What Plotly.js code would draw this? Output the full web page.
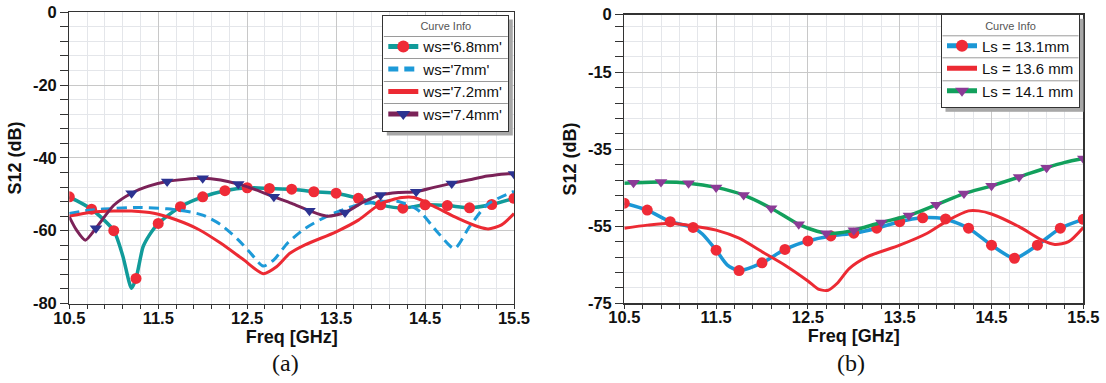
<!DOCTYPE html>
<html><head><meta charset="utf-8">
<script src="https://cdn.plot.ly/plotly-3.0.1.min.js"></script>
<style>html,body{margin:0;padding:0;background:#fff}#chart{width:1106px;height:383px}</style>
</head><body><div id="chart"></div>
<script>
// ---------- (a) ws sweep ----------
const seriesNamesA = ["ws='6.8mm'", "ws='7mm'", "ws='7.2mm'", "ws='7.4mm'"];
const freqA_ws68 = [10.5,10.75,11.0,11.1,11.2,11.25,11.33,11.4,11.5,11.75,12.0,12.25,12.5,12.75,13.0,13.25,13.5,13.75,14.0,14.25,14.5,14.75,15.0,15.25,15.5];
const s12A_ws68  = [-50.7,-54.1,-60.0,-66.8,-75.8,-73.1,-64.4,-61.2,-58.0,-53.4,-50.7,-49.0,-48.2,-48.4,-48.6,-49.3,-49.7,-51.1,-52.9,-53.8,-52.9,-53.1,-53.7,-52.8,-51.1];
const markA_ws68 = [10.5,10.75,11.0,11.25,11.5,11.75,12.0,12.25,12.5,12.75,13.0,13.25,13.5,13.75,14.0,14.25,14.5,14.75,15.0,15.25,15.5];

const freqA_ws70 = [10.5,10.75,11.0,11.3,11.6,11.8,12.0,12.2,12.4,12.55,12.68,12.8,12.95,13.15,13.4,13.7,14.0,14.2,14.42,14.65,14.83,15.0,15.2,15.5];
const s12A_ws70  = [-55.3,-54.3,-53.9,-53.6,-54.0,-54.6,-55.7,-58.3,-62.5,-66.5,-69.7,-68.0,-63.5,-59.4,-56.0,-53.2,-52.0,-52.0,-54.3,-60.7,-64.9,-58.9,-52.8,-49.2];

const freqA_ws72 = [10.5,10.75,11.0,11.2,11.45,11.7,11.95,12.2,12.45,12.68,12.83,12.98,13.15,13.5,13.75,14.0,14.24,14.38,14.6,14.87,15.1,15.21,15.36,15.5];
const s12A_ws72  = [-56.0,-54.9,-54.6,-54.6,-55.2,-57.0,-59.6,-63.4,-67.8,-71.8,-69.9,-66.2,-63.9,-60.3,-57.1,-52.6,-50.9,-50.9,-53.3,-56.6,-58.9,-59.5,-58.4,-55.3];

const freqA_ws74 = [10.5,10.58,10.68,10.8,11.0,11.2,11.4,11.6,11.8,12.0,12.2,12.4,12.6,12.8,13.0,13.2,13.4,13.6,13.8,14.0,14.2,14.4,14.6,14.8,15.0,15.2,15.4,15.5];
const s12A_ws74  = [-56.2,-59.8,-62.6,-59.3,-53.0,-49.7,-47.7,-46.5,-45.9,-45.6,-46.1,-47.2,-48.8,-50.7,-52.5,-54.5,-56.0,-55.0,-52.2,-50.2,-49.5,-49.3,-48.1,-47.0,-46.0,-45.0,-44.4,-44.4];
const markA_ws74 = [10.8,11.2,11.6,12.0,12.4,12.8,13.2,13.6,14.0,14.4,14.8,15.5];

// ---------- (b) Ls sweep ----------
const seriesNamesB = ["Ls = 13.1mm", "Ls = 13.6 mm", "Ls = 14.1 mm"];
const freqB_ls131 = [10.5,10.75,11.0,11.25,11.35,11.5,11.62,11.75,12.0,12.25,12.5,12.75,13.0,13.25,13.5,13.75,13.9,14.0,14.25,14.5,14.75,15.0,15.25,15.5];
const s12B_ls131  = [-49.0,-50.8,-53.8,-55.3,-57.0,-61.2,-65.0,-66.5,-64.5,-61.0,-58.8,-57.5,-56.8,-55.5,-53.8,-52.8,-52.8,-53.1,-55.5,-59.9,-63.3,-59.9,-55.5,-53.2];
const markB_ls131 = [10.5,10.75,11.0,11.25,11.5,11.75,12.0,12.25,12.5,12.75,13.0,13.25,13.5,13.75,14.0,14.25,14.5,14.75,15.0,15.25,15.5];

const freqB_ls136 = [10.5,10.75,11.0,11.25,11.5,11.75,12.0,12.25,12.5,12.62,12.72,12.82,12.95,13.15,13.5,13.8,14.03,14.25,14.36,14.5,14.8,15.05,15.19,15.34,15.5];
const s12B_ls136  = [-55.5,-54.7,-54.2,-54.9,-56.0,-58.1,-61.6,-65.1,-69.2,-71.4,-71.6,-69.8,-66.0,-62.9,-59.9,-56.8,-53.4,-51.0,-51.0,-51.8,-55.1,-58.6,-59.7,-59.0,-55.3];

const freqB_ls141 = [10.5,10.6,10.9,11.2,11.5,11.8,12.1,12.4,12.6,12.7,12.85,13.0,13.3,13.6,13.9,14.2,14.5,14.8,15.1,15.3,15.5];
const s12B_ls141  = [-43.8,-43.7,-43.5,-43.8,-44.9,-46.9,-50.3,-54.5,-56.3,-56.8,-56.7,-56.0,-54.0,-52.2,-49.4,-46.5,-44.5,-42.2,-39.8,-38.4,-37.4];
const markB_ls141 = [10.6,10.9,11.2,11.5,11.8,12.1,12.4,12.7,13.0,13.3,13.6,13.9,14.2,14.5,14.8,15.1,15.5];

// axis ticks
const xTickVals = [10.5,11.5,12.5,13.5,14.5,15.5];
const yTickValsA = [0,-20,-40,-60,-80];
const yTickValsB = [0,-15,-35,-55,-75];
const captions = ['(a)','(b)'];
const xTitle = 'Freq [GHz]';
const yTitle = 'S12 (dB)';
const legendTitle = 'Curve Info';

// ---------- helpers ----------
function sizes(xs, marks, s){
  return xs.map(x => marks.some(m => Math.abs(m - x) < 1e-6) ? s : 0);
}
const W = 1106, H = 383;
const px = v => v / W, py = v => 1 - v / H;
const FONT = 'Liberation Sans, Arial, sans-serif';

function mk(color, symbol, xs, marks){
  return {color, symbol, opacity:1, line:{width:0}, size: sizes(xs, marks, 11)};
}

const traces = [
  {x: freqA_ws68, y: s12A_ws68, name: seriesNamesA[0], mode: 'lines+markers', xaxis:'x', yaxis:'y',
   line:{color:'#119b9a', width:3.5, shape:'spline', smoothing:0.7},
   marker: mk('#ef2b37','circle',freqA_ws68, markA_ws68), legend:'legend'},
  {x: freqA_ws70, y: s12A_ws70, name: seriesNamesA[1], mode: 'lines', xaxis:'x', yaxis:'y',
   line:{color:'#1d9ad8', width:3, dash:'10px,6px', shape:'spline', smoothing:0.7}, legend:'legend'},
  {x: freqA_ws72, y: s12A_ws72, name: seriesNamesA[2], mode: 'lines', xaxis:'x', yaxis:'y',
   line:{color:'#ec2a33', width:3, shape:'spline', smoothing:0.7}, legend:'legend'},
  {x: freqA_ws74, y: s12A_ws74, name: seriesNamesA[3], mode: 'lines+markers', xaxis:'x', yaxis:'y',
   line:{color:'#7b2258', width:3, shape:'spline', smoothing:0.7},
   marker: mk('#2c3391','triangle-down',freqA_ws74, markA_ws74), legend:'legend'},

  {x: freqB_ls131, y: s12B_ls131, name: seriesNamesB[0], mode: 'lines+markers', xaxis:'x2', yaxis:'y2',
   line:{color:'#1b97d5', width:3.5, shape:'spline', smoothing:0.7},
   marker: mk('#ef2b37','circle',freqB_ls131, markB_ls131), legend:'legend2'},
  {x: freqB_ls136, y: s12B_ls136, name: seriesNamesB[1], mode: 'lines', xaxis:'x2', yaxis:'y2',
   line:{color:'#ec2a33', width:3, shape:'spline', smoothing:0.7}, legend:'legend2'},
  {x: freqB_ls141, y: s12B_ls141, name: seriesNamesB[2], mode: 'lines+markers', xaxis:'x2', yaxis:'y2',
   line:{color:'#12a05c', width:3.5, shape:'spline', smoothing:0.7},
   marker: mk('#8b3b96','triangle-down',freqB_ls141, markB_ls141), legend:'legend2'}
];

function xAxis(domain, anchor){
  return {domain, anchor, range:[10.5,15.5], tickmode:'array', tickvals:xTickVals, ticktext:xTickVals.map(v=>v.toFixed(1)),
    ticks:'outside', ticklen:4, tickcolor:'#333', showline:true, linecolor:'#333', linewidth:1.2, mirror:true,
    showgrid:true, gridcolor:'#c8c8c8', gridwidth:1, zeroline:false, ticklabelstandoff:-5,
    minor:{tick0:10.5, dtick:0.2, ticks:'outside', ticklen:4, tickcolor:'#333', showgrid:true, gridcolor:'#e4e6ea'},
    tickfont:{family:FONT, size:16.5, color:'#111', weight:'bold'},
    title:{text:xTitle, font:{family:FONT, size:18, color:'#111', weight:'bold'}, standoff:0}};
}
function yAxis(domain, anchor, range, tickvals, minor0){
  return {domain, anchor, range, tickmode:'array', tickvals, ticktext:tickvals.map(String),
    ticks:'outside', ticklen:8, tickcolor:'#333', showline:true, linecolor:'#333', linewidth:1.2, mirror:true,
    showgrid:true, gridcolor:'#c8c8c8', gridwidth:1, zeroline:false,
    minor:{tick0:minor0, dtick:4, ticks:'outside', ticklen:8, tickcolor:'#333', showgrid:true, gridcolor:'#e4e6ea'},
    tickfont:{family:FONT, size:16.5, color:'#111', weight:'bold'},
    title:{text:yTitle, font:{family:FONT, size:18, color:'#111', weight:'bold'}, standoff:6}};
}

const legendCommon = {bgcolor:'#ffffff', bordercolor:'#333', borderwidth:1, xanchor:'right', yanchor:'top',
  font:{family:FONT, size:15, color:'#111'}, tracegroupgap:0, itemwidth:30, itemsizing:'constant',
  title:{text:legendTitle, side:'top center', font:{family:FONT, size:11, color:'#555'}}};

const layout = {
  width:W, height:H, margin:{l:0,r:0,t:0,b:0}, paper_bgcolor:'#fff', plot_bgcolor:'#fff', showlegend:true,
  xaxis: xAxis([px(69.3), px(514)], 'y'),
  yaxis: yAxis([1-303.5/H, 1-12.3/H], 'x', [-80,0], yTickValsA, 0),
  xaxis2: xAxis([px(624.3), px(1083.3)], 'y2'),
  yaxis2: yAxis([1-303.3/H, 1-14.5/H], 'x2', [-75,0], yTickValsB, -3),
  legend: Object.assign({}, legendCommon, {x:px(509.3), y:py(15)}),
  legend2: Object.assign({}, legendCommon, {x:px(1080), y:py(14.3)}),
  annotations: [
    {text:captions[0], xref:'paper', yref:'paper', x:px(285), y:py(363), showarrow:false, xanchor:'center', yanchor:'middle',
     font:{family:'Liberation Serif, Times New Roman, serif', size:24, color:'#111'}},
    {text:captions[1], xref:'paper', yref:'paper', x:px(851), y:py(363), showarrow:false, xanchor:'center', yanchor:'middle',
     font:{family:'Liberation Serif, Times New Roman, serif', size:24, color:'#111'}}
  ]
};

// legend decoration (drop shadow + row separators), added to the legend's own SVG group
function decorateLegends(gd){
  const NS = 'http://www.w3.org/2000/svg';
  ['legend','legend2'].forEach(id => {
    try {
      const g = gd.querySelector('g.' + id);
      if(!g) return;
      const bg = g.querySelector('rect.bg');
      if(!bg) return;
      const bx = parseFloat(bg.getAttribute('x')) || 0, by = parseFloat(bg.getAttribute('y')) || 0;
      const bw = parseFloat(bg.getAttribute('width')), bh = parseFloat(bg.getAttribute('height'));
      const shadow = document.createElementNS(NS, 'rect');
      shadow.setAttribute('x', bx + 4); shadow.setAttribute('y', by + 4);
      shadow.setAttribute('width', bw); shadow.setAttribute('height', bh);
      shadow.setAttribute('fill', '#a8a8a8');
      g.insertBefore(shadow, bg);
      const bgTop = bg.getBoundingClientRect().top;
      const centers = Array.from(g.querySelectorAll('g.traces')).map(tr => {
        const t = tr.querySelector('text');
        const r = t.getBoundingClientRect();
        return (r.top + r.bottom) / 2 - bgTop + by;
      });
      if(centers.length > 1){
        const d = centers[1] - centers[0];
        let ref = bg.nextSibling;
        centers.forEach(c => {
          const yy = Math.round(c - d/2) + 0.5;
          const ln = document.createElementNS(NS, 'line');
          ln.setAttribute('x1', bx + 1); ln.setAttribute('x2', bx + bw - 1);
          ln.setAttribute('y1', yy); ln.setAttribute('y2', yy);
          ln.setAttribute('stroke', '#9a9a9a'); ln.setAttribute('stroke-width', '1');
          g.insertBefore(ln, ref);
        });
      }
    } catch(e) {}
  });
}

Plotly.newPlot('chart', traces, layout, {staticPlot:true, displayModeBar:false}).then(decorateLegends);
</script>
</body></html>
